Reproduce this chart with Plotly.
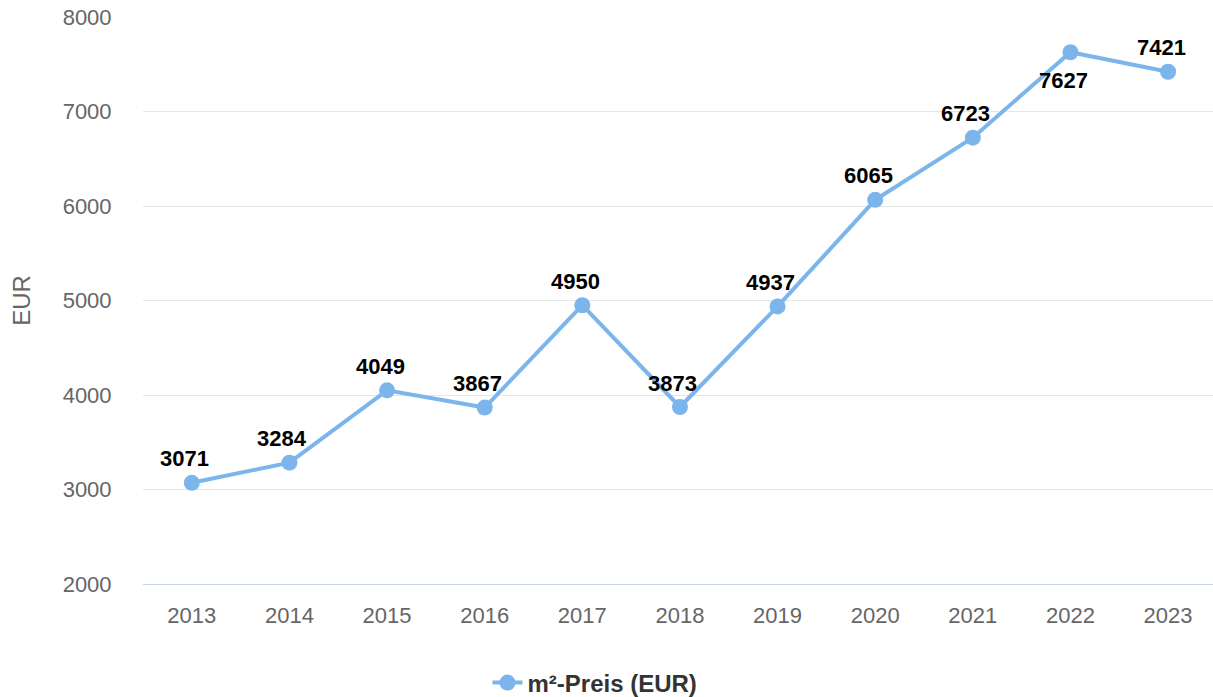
import plotly.graph_objects as go

# m² price development (EUR)
years = ["2013", "2014", "2015", "2016", "2017", "2018", "2019", "2020", "2021", "2022", "2023"]
prices = [3071, 3284, 4049, 3867, 4950, 3873, 4937, 6065, 6723, 7627, 7421]
# label placement per point: +1 above the marker, -1 below
label_side = [1, 1, 1, 1, 1, 1, 1, 1, 1, -1, 1]

series_name = "m²-Preis (EUR)"
y_ticks = [2000, 3000, 4000, 5000, 6000, 7000, 8000]

FONT = "Liberation Sans, Helvetica, Arial, sans-serif"
LINE_COLOR = "#7cb5ec"

fig = go.Figure()
fig.add_trace(go.Scatter(
    x=years,
    y=prices,
    mode="lines+markers",
    name=series_name,
    line=dict(color=LINE_COLOR, width=4),
    marker=dict(color=LINE_COLOR, size=16),
    hoverinfo="x+y",
))

# value labels; on a category axis the x position is the category index
for idx, (val, side) in enumerate(zip(prices, label_side)):
    fig.add_annotation(
        x=idx, y=val, xref="x", yref="y",
        text="<b>%d</b>" % val, showarrow=False,
        xshift=-7, yshift=24 if side > 0 else -28,
        font=dict(family=FONT, size=22, color="#000000"),
    )

fig.update_layout(
    width=1213, height=697,
    margin=dict(l=143, r=0, t=17, b=113, autoexpand=False),
    paper_bgcolor="#ffffff",
    plot_bgcolor="#ffffff",
    font=dict(family=FONT, size=22, color="#666666"),
    showlegend=True,
    legend=dict(
        orientation="h", x=0.4224, xanchor="center", y=-0.1746, yanchor="middle",
        font=dict(family=FONT, size=24, color="#333333", weight="bold"),
        itemwidth=30,
    ),
    xaxis=dict(
        type="category",
        range=[-0.5, 10.46],
        showgrid=False,
        showline=True, linecolor="#ccd6eb", linewidth=1,
        ticks="outside", ticklen=12, tickcolor="rgba(0,0,0,0)",
        tickfont=dict(family=FONT, size=22, color="#666666"),
        fixedrange=True,
    ),
    yaxis=dict(
        range=[2000, 8000],
        tickvals=y_ticks,
        showgrid=True, gridcolor="#e6e6e6", gridwidth=1,
        zeroline=False, showline=False,
        ticks="outside", ticklen=26, tickcolor="rgba(0,0,0,0)",
        tickfont=dict(family=FONT, size=22, color="#666666"),
        title=dict(text="EUR", font=dict(family=FONT, size=24, color="#666666"), standoff=25),
        fixedrange=True,
    ),
)

fig.write_html("out.html")
